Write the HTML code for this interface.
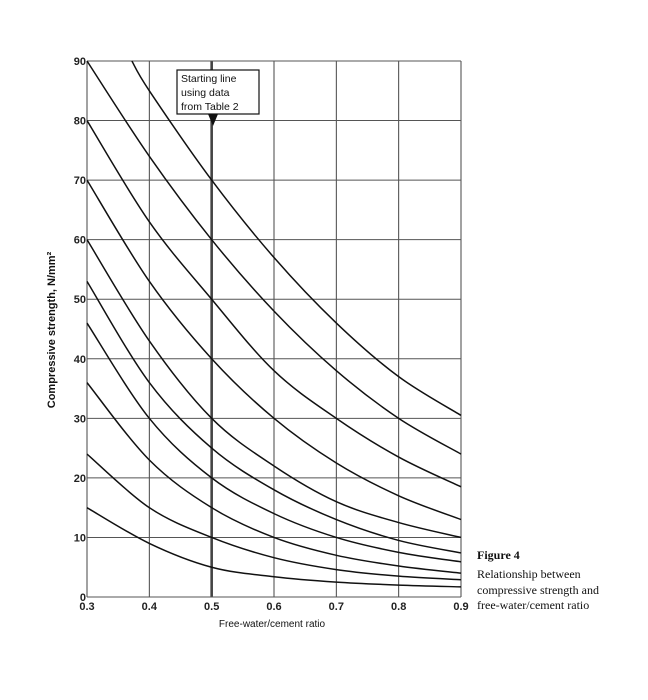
<!DOCTYPE html>
<html><head><meta charset="utf-8"><style>
html,body{margin:0;padding:0;background:#fff;}
svg{display:block;}
</style></head><body>
<svg id="chart" width="648" height="700" viewBox="0 0 648 700" xmlns="http://www.w3.org/2000/svg">
<g id="grid"></g>
<g id="curves"></g>
<g id="ticks" font-family="Liberation Sans, sans-serif" font-size="11" font-weight="bold" fill="#222"></g>
<text transform="translate(55,330) rotate(-90)" text-anchor="middle" font-family="Liberation Sans, sans-serif" font-size="11" font-weight="bold" fill="#111">Compressive strength, N/mm²</text>
<text x="272" y="627" text-anchor="middle" font-family="Liberation Sans, sans-serif" font-size="10" fill="#111">Free-water/cement ratio</text>
<g>
<rect x="177" y="70" width="82" height="44" fill="#fff" stroke="#111" stroke-width="1.2"/>
<text x="181" y="82" font-family="Liberation Sans, sans-serif" font-size="10.5" fill="#111">Starting line</text>
<text x="181" y="96" font-family="Liberation Sans, sans-serif" font-size="10.5" fill="#111">using data</text>
<text x="181" y="110" font-family="Liberation Sans, sans-serif" font-size="10.5" fill="#111">from Table 2</text>
<polygon points="208,114 218,114 213,126" fill="#111"/>
</g>
<g font-family="Liberation Serif, serif" font-size="12" fill="#111">
<text x="477" y="559" font-weight="bold">Figure 4</text>
<text x="477" y="578">Relationship between</text>
<text x="477" y="594">compressive strength and</text>
<text x="477" y="609">free-water/cement ratio</text>
</g>
</svg>
<script>
const xTicks=[0.3,0.4,0.5,0.6,0.7,0.8,0.9];
const yTicks=[0,10,20,30,40,50,60,70,80,90];
const xs=[0.3,0.4,0.5,0.6,0.7,0.8,0.9];
const curve1X=[0.372,0.4,0.5,0.6,0.7,0.8,0.9];
const curve1=[90,85,70,57,46,37,30.5];
const curve2=[90,74,60,48,38,30,24];
const curve3=[80,63,50,38,30,23.5,18.5];
const curve4=[70,53,40,30,22.5,17,13];
const curve5=[60,43,30,22,16,12.5,10];
const curve6=[53,36,25,18,13,9.5,7.4];
const curve7=[46,30,20,14,10,7.5,5.9];
const curve8=[36,23,15,10,7,5.2,4];
const curve9=[24,15,10,6.6,4.6,3.5,2.9];
const curve10=[15,9,5,3.4,2.5,2,1.7];
const NS="http://www.w3.org/2000/svg";
const X0=87,X1=461,Y0=597,Y1=61;
function sx(v){return X0+(v-0.3)/(0.9-0.3)*(X1-X0);}
function sy(v){return Y0-(v/90)*(Y0-Y1);}
const grid=document.getElementById('grid');
xTicks.forEach(t=>{const l=document.createElementNS(NS,'line');


l.setAttribute('x1',sx(t));l.setAttribute('x2',sx(t));l.setAttribute('y1',Y1);l.setAttribute('y2',Y0);
l.setAttribute('stroke','#444');l.setAttribute('stroke-width',t===0.5?2.6:1);grid.appendChild(l);});
yTicks.forEach(t=>{const l=document.createElementNS(NS,'line');


l.setAttribute('x1',X0);l.setAttribute('x2',X1);l.setAttribute('y1',sy(t));l.setAttribute('y2',sy(t));
l.setAttribute('stroke','#555');l.setAttribute('stroke-width',1);grid.appendChild(l);});
const ticks=document.getElementById('ticks');
xTicks.forEach(t=>{const e=document.createElementNS(NS,'text');


e.setAttribute('x',sx(t));e.setAttribute('y',Y0+13);e.setAttribute('text-anchor','middle');e.textContent=t.toFixed(1);ticks.appendChild(e);});
yTicks.forEach(t=>{const e=document.createElementNS(NS,'text');


e.setAttribute('x',X0-1);e.setAttribute('y',sy(t)+4);e.setAttribute('text-anchor','end');e.textContent=String(t);ticks.appendChild(e);});
function path(px,py){const p=px.map((x,i)=>[sx(x),sy(py[i])]);let d='M'+p[0][0]+','+p[0][1];
for(let i=0;i<p.length-1;i++){const a=p[Math.max(i-1,0)],b=p[i],c=p[i+1],e=p[Math.min(i+2,p.length-1)];
d+=' C'+(b[0]+(c[0]-a[0])/6)+','+(b[1]+(c[1]-a[1])/6)+' '+(c[0]-(e[0]-b[0])/6)+','+(c[1]-(e[1]-b[1])/6)+' '+c[0]+','+c[1];}
return d;}
const cg=document.getElementById('curves');
const all=[[curve1X,curve1],[xs,curve2],[xs,curve3],[xs,curve4],[xs,curve5],[xs,curve6],[xs,curve7],[xs,curve8],[xs,curve9],[xs,curve10]];
all.forEach((c,i)=>{const p=document.createElementNS(NS,'path');


p.setAttribute('d',path(c[0],c[1]));p.setAttribute('fill','none');p.setAttribute('stroke','#111');p.setAttribute('stroke-width',1.5);cg.appendChild(p);});
</script>
</body></html>
